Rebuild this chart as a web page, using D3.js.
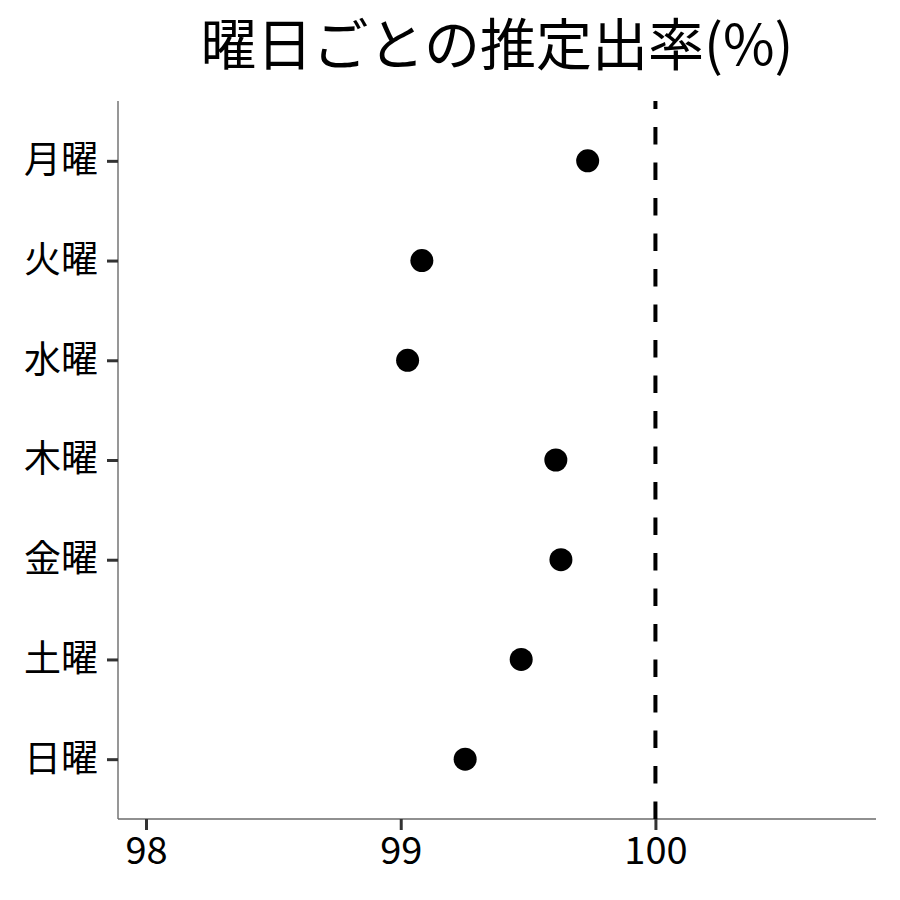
<!DOCTYPE html>
<html>
<head>
<meta charset="utf-8">
<script src="https://cdn.jsdelivr.net/npm/d3@7"></script>
<style>
  body { margin: 0; background: #fff; }
  text { font-family: "Noto Sans CJK JP", "Noto Sans", sans-serif; }
</style>
</head>
<body>
<div id="chart"></div>
<script>
// data
var days = ['月曜', '火曜', '水曜', '木曜', '金曜', '土曜', '日曜'];
var rates = [99.734, 99.083, 99.027, 99.609, 99.629, 99.473, 99.253];
var xTicks = [98, 99, 100];
var refLine = 100;
var title = '曜日ごとの推定出率(%)';

var width = 900, height = 900;
var margin = {top: 101, right: 24, bottom: 81, left: 118};
var w = width - margin.left - margin.right;
var h = height - margin.top - margin.bottom;

var svg = d3.select('#chart')
  .append('svg')
  .attr('width', width)
  .attr('height', height);

var g = svg.append('g')
  .attr('transform', 'translate(' + margin.left + ',' + margin.top + ')');

var x = d3.scaleLinear().domain([97.89, 100.866]).range([0, w]);
var y = d3.scalePoint().domain(days).range([0, h]).padding(0.6);

// x axis
var axisX = d3.axisBottom(x).tickValues(xTicks).tickFormat(d3.format('d')).tickSize(11).tickPadding(7);
var axisXG = g.append('g')
  .attr('transform', 'translate(0,' + h + ')')
  .call(axisX);
axisXG.select('.domain').attr('stroke', '#6b6b6b').attr('stroke-width', 1.4).attr('d', 'M0,0H' + w);
axisXG.selectAll('.tick line').attr('stroke', '#333').attr('stroke-width', 3);
axisXG.selectAll('.tick text').attr('fill', '#000').style('font-size', '38px');

// y axis
var axisY = d3.axisLeft(y).tickSize(11).tickPadding(9);
var axisYG = g.append('g').call(axisY);
axisYG.select('.domain').attr('stroke', '#6b6b6b').attr('stroke-width', 1.4).attr('d', 'M0,0V' + h);
axisYG.selectAll('.tick line').attr('stroke', '#333').attr('stroke-width', 3);
axisYG.selectAll('.tick text').attr('fill', '#000').style('font-size', '37px');

// reference line (drawn bottom to top)
g.append('line')
  .attr('x1', x(refLine)).attr('x2', x(refLine))
  .attr('y1', h).attr('y2', 0)
  .attr('stroke', '#000')
  .attr('stroke-width', 4)
  .attr('stroke-dasharray', '17.5,18');

// points
g.selectAll('.dot')
  .data(rates)
  .enter()
  .append('circle')
  .attr('class', 'dot')
  .attr('cx', function(d) { return x(d); })
  .attr('cy', function(d, i) { return y(days[i]); })
  .attr('r', 11.5)
  .attr('fill', '#000');

// title
svg.append('text')
  .attr('x', margin.left + w / 2)
  .attr('y', 65)
  .attr('text-anchor', 'middle')
  .style('font-size', '56px')
  .attr('fill', '#000')
  .text(title);
</script>
</body>
</html>
